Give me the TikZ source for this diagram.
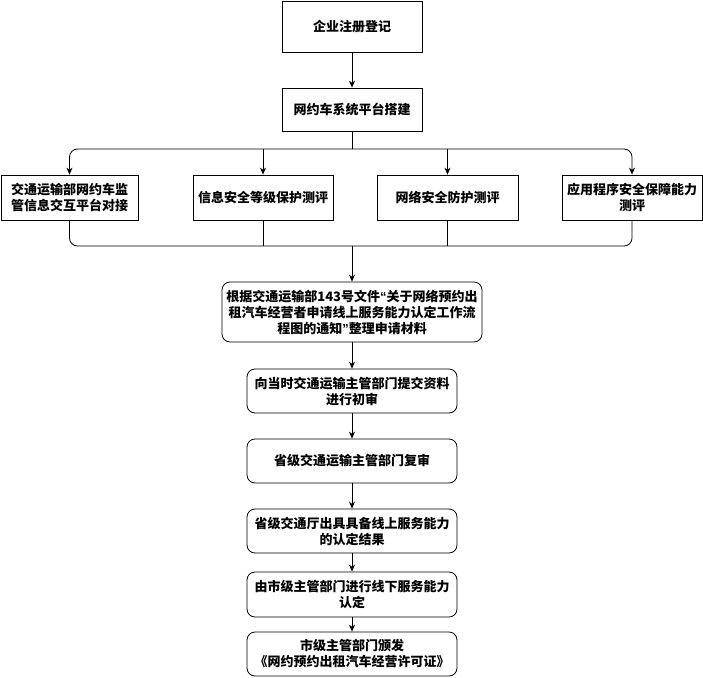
\documentclass[tikz,border=0pt]{standalone}
\usepackage{fontspec}
\setmainfont{Noto Sans CJK SC}
\newfontfamily\quotefont{Liberation Sans}
\usetikzlibrary{arrows.meta,calc,positioning}

\begin{document}
\begin{tikzpicture}[x=1pt,y=-1pt,
    box/.style={draw, line width=0.8pt, align=center, inner sep=2pt,
      font=\fontsize{13}{16}\selectfont\bfseries},
    rbox/.style={box, rounded corners=8pt, minimum width=210pt, minimum height=44pt},
    line/.style={line width=0.8pt},
    link/.style={line width=0.8pt, -{Stealth[length=7pt,width=6pt]}}]
  \useasboundingbox (0,0) rectangle (703,677);
  % top of the chain
  \node[box, minimum width=140pt, minimum height=51pt] (reg) at (352,26.5) {企业注册登记};
  \node[box, minimum width=140pt, minimum height=43pt] (plat) at (352,109.5) {网约车系统平台搭建};
  % four evaluations
  \node[box, minimum width=137pt, minimum height=45pt] (evalA) at (69.5,197.5) {交通运输部网约车监\\管信息交互平台对接};
  \node[box, minimum width=140pt, minimum height=45pt] (evalB) at (263,197.5) {信息安全等级保护测评};
  \node[box, minimum width=141pt, minimum height=45pt] (evalC) at (447.5,197.5) {网络安全防护测评};
  \node[box, minimum width=140pt, minimum height=45pt] (evalD) at (632,197.5) {应用程序安全保障能力\\测评};
  \coordinate (split) at (352,149);
  \coordinate (join) at (352,246);
  % application steps
  \node[rbox, minimum width=260pt, minimum height=60pt] (docs) at (352,312) {根据交通运输部143号文件{\quotefont “}关于网络预约出\\租汽车经营者申请线上服务能力认定工作流\\程图的通知{\quotefont ”}整理申请材料};
  \node[rbox] (prelim) at (352,391) {向当时交通运输主管部门提交资料\\进行初审};
  \node[rbox] (review) at (352,461) {省级交通运输主管部门复审};
  \node[rbox] (result) at (352,531) {省级交通厅出具具备线上服务能力\\的认定结果};
  \node[rbox, minimum height=45pt] (offline) at (352,594.5) {由市级主管部门进行线下服务能力\\认定};
  \node[rbox] (permit) at (352,654) {市级主管部门颁发\\《网约预约出租汽车经营许可证》};

  \path[link] (reg) edge (plat);
  \draw[line] (plat) -- (split);
  \draw[link, rounded corners=8pt] (split) -| (evalA);
  \draw[link, rounded corners=8pt] (split) -| (evalD);
  \draw[link] (split -| evalB) -- (evalB);
  \draw[link] (split -| evalC) -- (evalC);
  \draw[line, rounded corners=8pt] (evalA) |- (join) -| (evalD);
  \draw[line] (evalB) -- (evalB |- join);
  \draw[line] (evalC) -- (evalC |- join);
  \path[link] (join) edge (docs)
    (docs) edge (prelim)
    (prelim) edge (review)
    (review) edge (result)
    (result) edge (offline)
    (offline) edge (permit);
\end{tikzpicture}
\end{document}
